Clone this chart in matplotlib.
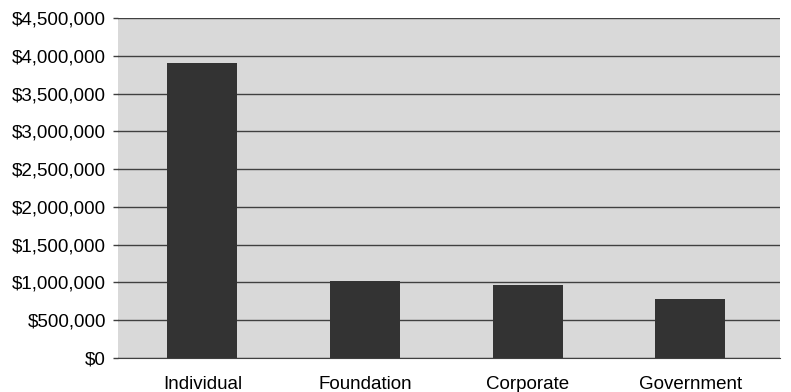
import matplotlib
matplotlib.use('Agg')
import matplotlib.pyplot as plt
from matplotlib.ticker import FuncFormatter

# funding by source
sources = ['Individual', 'Foundation', 'Corporate', 'Government']
amounts = [3900000, 1020000, 960000, 780000]
yticks = list(range(0, 4500001, 500000))

plt.rcParams['font.family'] = ['Liberation Sans', 'DejaVu Sans']

fig = plt.figure(figsize=(7.91, 3.92), dpi=100)
ax = fig.add_axes([0.149, 0.087, 0.837, 0.867])
ax.set_facecolor('#d9d9d9')

x = range(len(sources))
ax.bar(x, amounts, width=0.43, color='#333333', zorder=3)

ax.set_xlim(-0.52, len(sources) - 0.45)
ax.set_ylim(0, 4500000)
ax.set_yticks(yticks)
ax.yaxis.set_major_formatter(FuncFormatter(lambda v, p: '${:,.0f}'.format(v)))
ax.grid(axis='y', color='#404040', linewidth=1, zorder=1)

ax.set_xticks(list(x))
ax.set_xticklabels(sources)
ax.tick_params(axis='x', length=0, pad=13, labelsize=13.5)
ax.tick_params(axis='y', length=3.6, width=1, color='#404040', pad=5, labelsize=13.5)

for s in ['top', 'right', 'left']:
    ax.spines[s].set_visible(False)
ax.spines['bottom'].set_color('#404040')

fig.savefig('out.png', dpi=100)
